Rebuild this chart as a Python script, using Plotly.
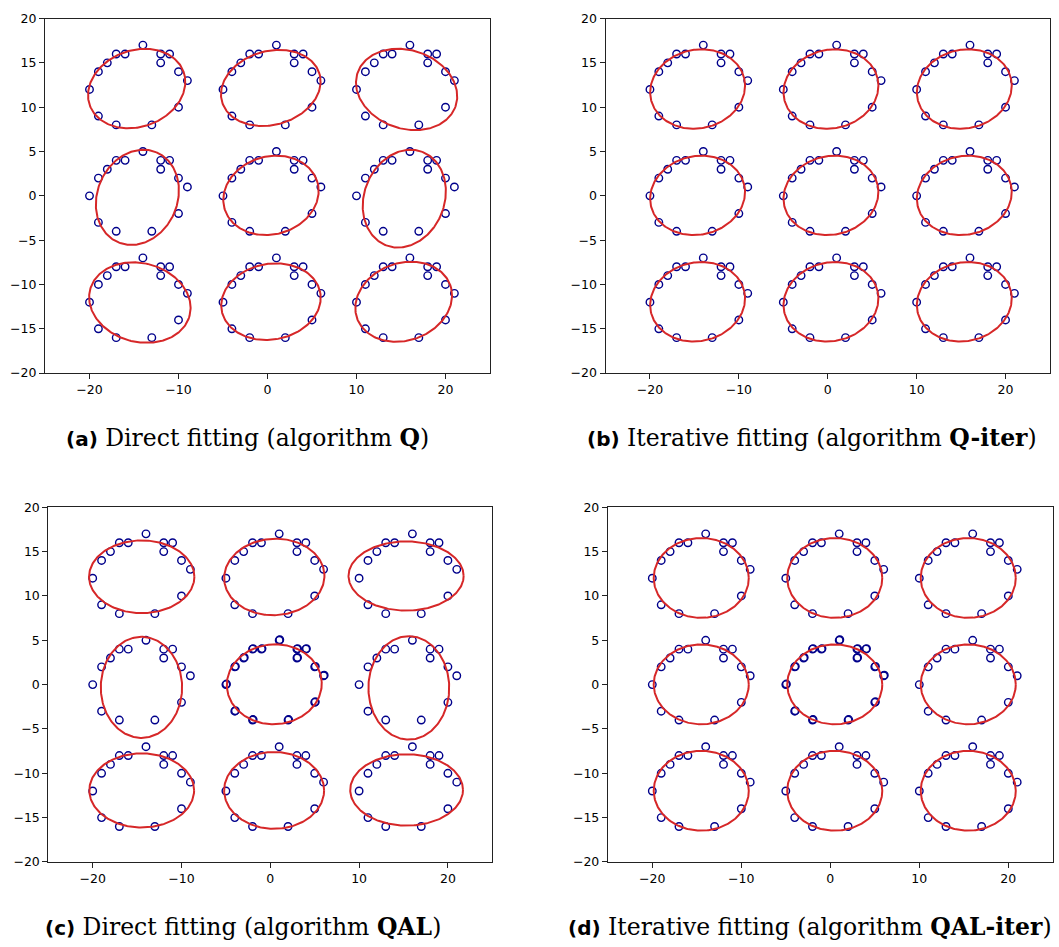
import numpy as np
import plotly.graph_objects as go

# ---------------- data points (same in every panel) ----------------
xs_left  = [-20, -19, -18, -17, -16, -14, -12, -11, -12, -10, -9, -10, -13, -17, -19]
xs_mid   = [-5, -4, -3, -2, -1, 1, 3, 4, 3, 5, 6, 5, 2, -2, -4]
xs_right = [10, 11, 12, 13, 14, 16, 18, 19, 18, 20, 21, 20, 17, 13, 11]
ys_top   = [12, 14, 15, 16, 16, 17, 16, 16, 15, 14, 13, 10, 8, 8, 9]
ys_mid   = [0, 2, 3, 4, 4, 5, 4, 4, 3, 2, 1, -2, -4, -4, -3]
ys_bot   = [-12, -10, -9, -8, -8, -7, -8, -8, -9, -10, -11, -14, -16, -16, -15]

# duplicated (slightly shifted) centre cluster visible in panels (c) and (d)
dup_x = [-4.93, -3.93, -2.93, -1.93, -0.93, 1.07, 3.07, 4.07, 3.07, 5.07, 6.07, 5.07, 2.07, -1.93, -3.93]
dup_y = [0.06, 2.06, 3.06, 4.06, 4.06, 5.06, 4.06, 4.06, 3.06, 2.06, 1.06, -1.94, -3.94, -3.94, -2.94]

# ---------------- fitted ellipses: centre, semi-axes, angle (deg) ----------------
a_cx = [-14.7, 0.37, 15.63, -14.62, 0.39, 15.37, -14.34, 0.39, 15.3]
a_cy = [12.1, 12.17, 12.0, -0.17, 0.05, -0.32, -12.04, -11.94, -11.95]
a_ra = [5.6, 5.7, 5.82, 5.51, 5.43, 5.65, 5.78, 5.63, 5.56]
a_rb = [4.31, 4.16, 4.42, 4.5, 4.39, 4.51, 4.44, 4.27, 4.36]
a_ang = [20, 16, -19, 67, 16, 69, -15, 10.5, 20]

b_cx = [-14.64, 0.36, 15.36, -14.64, 0.36, 15.36, -14.64, 0.36, 15.36]
b_cy = [12.05, 12.05, 12.05, 0.05, 0.05, 0.05, -11.95, -11.95, -11.95]
b_ra = [5.38] * 9
b_rb = [4.43] * 9
b_ang = [12.7] * 9

c_cx = [-14.48, 0.45, 15.29, -14.51, 0.45, 15.6, -14.48, 0.43, 15.35]
c_cy = [12.16, 12.14, 12.25, -0.31, 0.04, -0.37, -11.93, -11.93, -11.88]
c_ra = [5.93, 5.65, 6.48, 5.7, 5.35, 5.83, 5.9, 5.63, 6.35]
c_rb = [4.1, 4.31, 3.9, 4.58, 4.5, 4.55, 4.18, 4.33, 4.02]
c_ang = [0, 3, 0, 90, 3, 90, 0, 0, 0]

d_cx = [-14.5, 0.5, 15.5, -14.5, 0.5, 15.5, -14.5, 0.5, 15.5]
d_cy = [12.03, 12.03, 12.03, 0.03, 0.03, 0.03, -11.97, -11.97, -11.97]
d_ra = [5.34] * 9
d_rb = [4.5] * 9
d_ang = [0] * 9

captions = [
    "Direct fitting (algorithm <b>Q</b>)",
    "Iterative fitting (algorithm <b>Q-iter</b>)",
    "Direct fitting (algorithm <b>QAL</b>)",
    "Iterative fitting (algorithm <b>QAL-iter</b>)",
]
labels = ["(a)", "(b)", "(c)", "(d)"]

# ---------------- build ----------------
W, H = 1059, 947
pts_x, pts_y = [], []
for ys in (ys_top, ys_mid, ys_bot):
    for xs in (xs_left, xs_mid, xs_right):
        pts_x += xs
        pts_y += ys

def ellipse_path(cx, cy, ra, rb, ang):
    t = np.linspace(0, 2 * np.pi, 241)
    X, Y = [], []
    for x0, y0, a, b, g in zip(cx, cy, ra, rb, ang):
        th = np.deg2rad(g)
        ex = x0 + a * np.cos(t) * np.cos(th) - b * np.sin(t) * np.sin(th)
        ey = y0 + a * np.cos(t) * np.sin(th) + b * np.sin(t) * np.cos(th)
        X += list(ex) + [None]
        Y += list(ey) + [None]
    return X, Y

ell = [
    (a_cx, a_cy, a_ra, a_rb, a_ang),
    (b_cx, b_cy, b_ra, b_rb, b_ang),
    (c_cx, c_cy, c_ra, c_rb, c_ang),
    (d_cx, d_cy, d_ra, d_rb, d_ang),
]

# panel frames in pixels: (left, right, top, bottom)
panels_px = [
    (45.0, 490.0, 10.7, 371.0),
    (605.5, 1050.0, 10.7, 371.0),
    (48.3, 492.3, 507.3, 867.7),
    (607.8, 1052.8, 507.3, 867.7),
]
caption_pos = [(247, 437), (812, 437), (243, 934), (810, 934)]

fig = go.Figure()
marker = dict(symbol="circle-open", size=7.5, color="#00008B", line=dict(width=1.4, color="#00008B"))
red = "#d62728"

layout = dict(width=W, height=H, margin=dict(l=0, r=0, t=0, b=0),
              paper_bgcolor="white", plot_bgcolor="white", showlegend=False)
annotations = []
for i in range(4):
    sfx = "" if i == 0 else str(i + 1)
    xa, ya = "x" + sfx, "y" + sfx
    fig.add_trace(go.Scatter(x=pts_x, y=pts_y, mode="markers", marker=marker,
                             xaxis=xa, yaxis=ya, hoverinfo="skip"))
    if i >= 2:
        fig.add_trace(go.Scatter(x=dup_x, y=dup_y, mode="markers", marker=marker,
                                 xaxis=xa, yaxis=ya, hoverinfo="skip"))
    ex, ey = ellipse_path(*ell[i])
    fig.add_trace(go.Scatter(x=ex, y=ey, mode="lines", line=dict(color=red, width=2),
                             xaxis=xa, yaxis=ya, hoverinfo="skip"))
    l, r, t, b = panels_px[i]
    axcommon = dict(showgrid=False, zeroline=False, showline=True, linecolor="#222",
                    linewidth=1, mirror=True, ticks="outside", ticklen=5, tickwidth=1,
                    tickcolor="#222", tickfont=dict(family="DejaVu Sans", size=12.5, color="black"))
    layout["xaxis" + sfx] = dict(domain=[l / W, r / W], range=[-25, 25],
                                 tickvals=[-20, -10, 0, 10, 20], anchor=ya, **axcommon)
    layout["yaxis" + sfx] = dict(domain=[1 - b / H, 1 - t / H], range=[-20, 20],
                                 tickvals=[-20, -15, -10, -5, 0, 5, 10, 15, 20], anchor=xa, **axcommon)
    cxp, cyp = caption_pos[i]
    annotations.append(dict(
        x=cxp / W, y=1 - cyp / H, xref="paper", yref="paper", showarrow=False,
        xanchor="center", yanchor="middle",
        text='<span style="font-family:DejaVu Sans;font-size:20px"><b>' + labels[i] + '</b></span> ' + captions[i],
        font=dict(family="DejaVu Serif", size=23.5, color="black")))

layout["annotations"] = annotations
fig.update_layout(**layout)
fig.write_html("out.html", config={"displayModeBar": False, "staticPlot": True},
               post_script="document.body.style.margin='0';document.body.style.padding='0';document.body.style.overflow='hidden';")
